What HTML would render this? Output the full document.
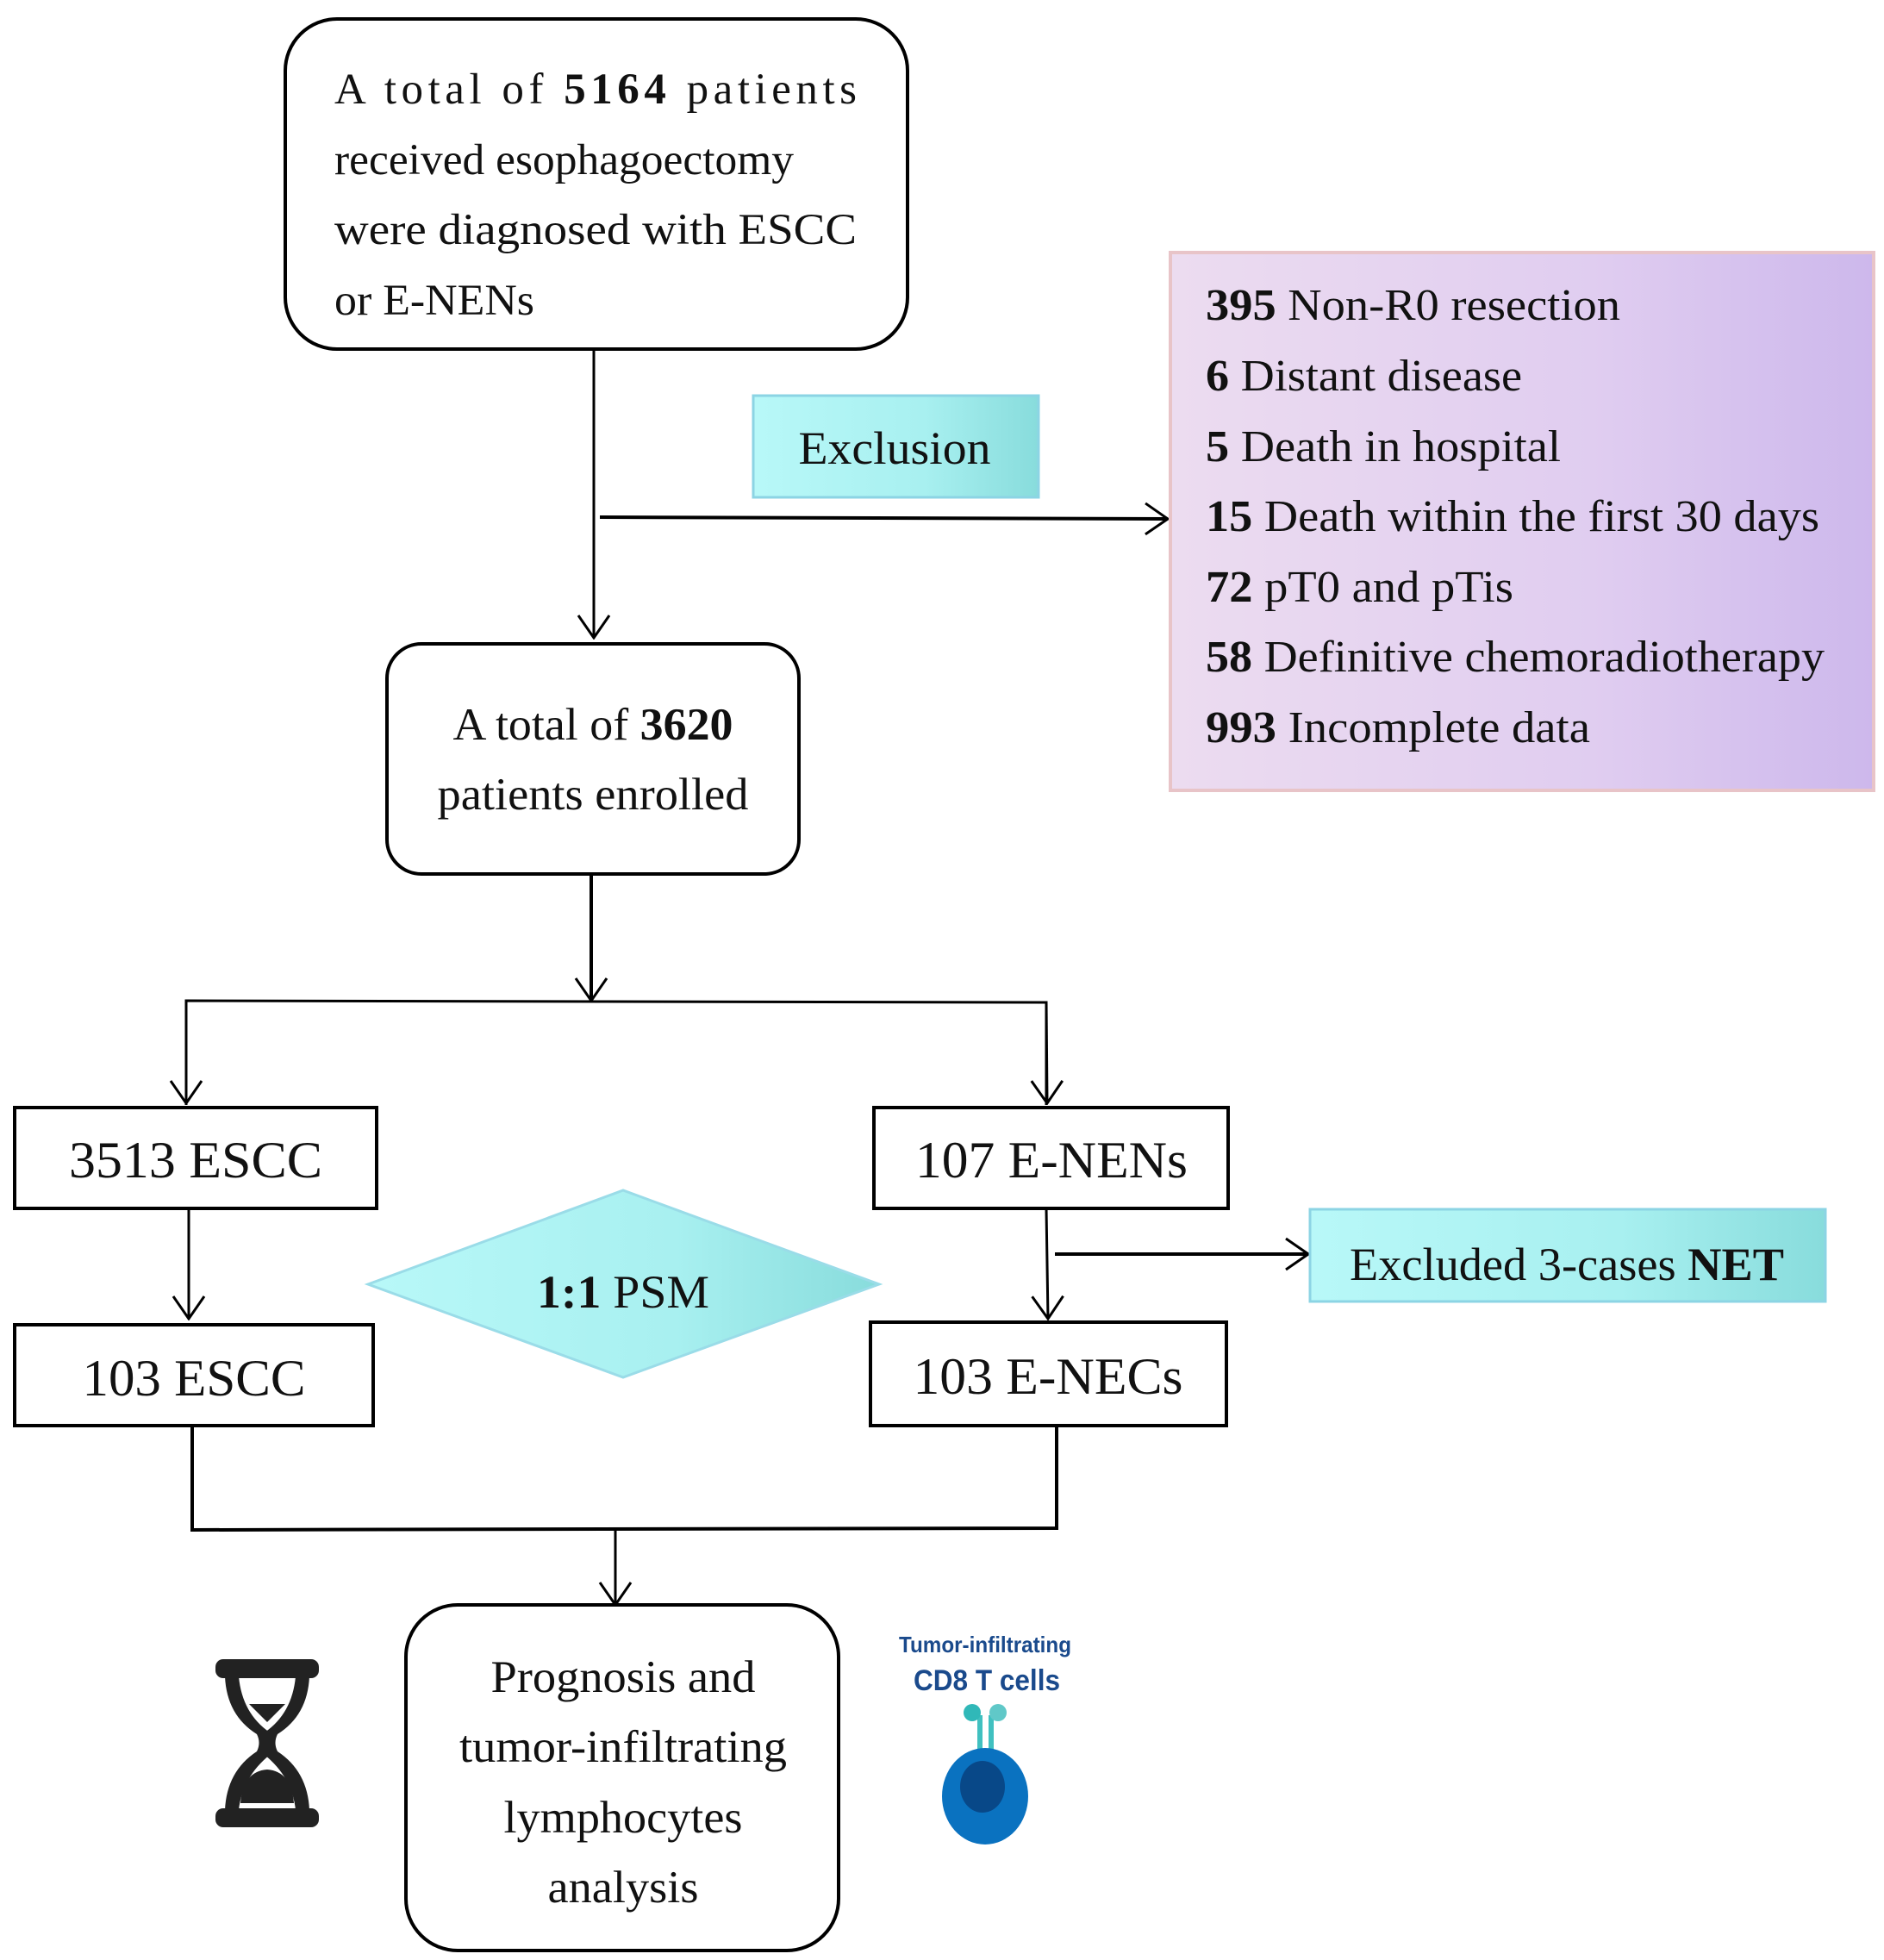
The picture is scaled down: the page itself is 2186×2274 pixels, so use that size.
<!DOCTYPE html>
<html><head><meta charset="utf-8"><style>html,body{margin:0;padding:0;background:#fff}svg{display:block}</style></head>
<body>
<svg width="2186" height="2274" viewBox="0 0 2186 2274" xmlns="http://www.w3.org/2000/svg" font-family="'Liberation Serif', serif">
<defs>
<linearGradient id="pg" x1="0" x2="1" y1="0" y2="0"><stop offset="0" stop-color="#ecdcf0"/><stop offset="0.6" stop-color="#e0cdf0"/><stop offset="1" stop-color="#cdb8ec"/></linearGradient>
<linearGradient id="cg" x1="0" x2="1" y1="0" y2="0"><stop offset="0" stop-color="#b8f8f8"/><stop offset="0.6" stop-color="#a8f0f0"/><stop offset="1" stop-color="#88dcdc"/></linearGradient>
<marker id="ar" viewBox="0 0 30 40" refX="28" refY="20" markerWidth="30" markerHeight="40" markerUnits="userSpaceOnUse" orient="auto"><path d="M2 2 L28 20 L2 38" fill="none" stroke="#000" stroke-width="3"/></marker>
</defs>
<g fill="none" stroke="#000" stroke-width="3">
<rect x="331" y="22" width="722" height="383" rx="60" stroke-width="4"/>
<line x1="689" y1="405" x2="689" y2="740" marker-end="url(#ar)"/>
<line x1="696" y1="600" x2="1355" y2="602" marker-end="url(#ar)" stroke-width="4"/>
<rect x="449" y="747" width="478" height="267" rx="40" stroke-width="4"/>
<line x1="686" y1="1014" x2="686" y2="1161" marker-end="url(#ar)" stroke-width="4"/>
<polyline points="216,1282 216,1161 1214,1163 1214,1282"/>
<line x1="216" y1="1163" x2="216" y2="1280" marker-end="url(#ar)"/>
<line x1="1214" y1="1163" x2="1215" y2="1280" marker-end="url(#ar)"/>
<rect x="17" y="1285" width="420" height="117" stroke-width="4"/>
<rect x="1014" y="1285" width="411" height="117" stroke-width="4"/>
<line x1="219" y1="1402" x2="219" y2="1530" marker-end="url(#ar)"/>
<line x1="1214" y1="1402" x2="1216" y2="1530" marker-end="url(#ar)"/>
<line x1="1224" y1="1455" x2="1518" y2="1455" marker-end="url(#ar)" stroke-width="4"/>
<rect x="17" y="1537" width="416" height="117" stroke-width="4"/>
<rect x="1010" y="1534" width="413" height="120" stroke-width="4"/>
<polyline points="223,1654 223,1775 1226,1773 1226,1654" stroke-width="4"/>
<line x1="714" y1="1773" x2="714" y2="1862" marker-end="url(#ar)"/>
<rect x="471" y="1862" width="502" height="401" rx="60" stroke-width="4"/>
</g>
<rect x="1358" y="293" width="816" height="624" fill="url(#pg)" stroke="#e8c4c8" stroke-width="4"/>
<rect x="874" y="459" width="331" height="118" fill="url(#cg)" stroke="#8cd4e4" stroke-width="3"/>
<rect x="1520" y="1403" width="598" height="107" fill="url(#cg)" stroke="#8cd4e4" stroke-width="3"/>
<polygon points="427,1490 723,1381 1020,1490 723,1598" fill="url(#cg)" stroke="#9adce8" stroke-width="3"/>
<g font-size="51" fill="#111" lengthAdjust="spacingAndGlyphs">
<text x="388" y="120" textLength="606" lengthAdjust="spacing">A total of <tspan font-weight="bold">5164</tspan> patients</text>
<text x="388" y="202" textLength="533" lengthAdjust="spacingAndGlyphs">received esophagoectomy</text>
<text x="388" y="283" textLength="606" lengthAdjust="spacingAndGlyphs">were diagnosed with ESCC</text>
<text x="388" y="365" textLength="232" lengthAdjust="spacingAndGlyphs">or E-NENs</text>
<text x="1038" y="538" text-anchor="middle" font-size="54" textLength="223" lengthAdjust="spacingAndGlyphs">Exclusion</text>
<text x="688" y="858" text-anchor="middle" font-size="53" textLength="325" lengthAdjust="spacingAndGlyphs">A total of <tspan font-weight="bold">3620</tspan></text>
<text x="688" y="939" text-anchor="middle" font-size="53" textLength="361" lengthAdjust="spacingAndGlyphs">patients enrolled</text>
<text x="227" y="1366" text-anchor="middle" font-size="60" textLength="294" lengthAdjust="spacingAndGlyphs">3513 ESCC</text>
<text x="1220" y="1366" text-anchor="middle" font-size="60" textLength="316" lengthAdjust="spacingAndGlyphs">107 E-NENs</text>
<text x="225" y="1619" text-anchor="middle" font-size="60" textLength="259" lengthAdjust="spacingAndGlyphs">103 ESCC</text>
<text x="1216" y="1617" text-anchor="middle" font-size="60" textLength="313" lengthAdjust="spacingAndGlyphs">103 E-NECs</text>
<text x="723" y="1517" text-anchor="middle" font-size="54" textLength="200" lengthAdjust="spacingAndGlyphs"><tspan font-weight="bold">1:1</tspan> PSM</text>
<text x="1818" y="1485" text-anchor="middle" font-size="54" textLength="504" lengthAdjust="spacingAndGlyphs">Excluded 3-cases <tspan font-weight="bold">NET</tspan></text>
<text x="723" y="1963" text-anchor="middle" font-size="53" textLength="307" lengthAdjust="spacingAndGlyphs">Prognosis and</text>
<text x="723" y="2044" text-anchor="middle" font-size="53" textLength="380" lengthAdjust="spacingAndGlyphs">tumor-infiltrating</text>
<text x="723" y="2126" text-anchor="middle" font-size="53" textLength="277" lengthAdjust="spacingAndGlyphs">lymphocytes</text>
<text x="723" y="2207" text-anchor="middle" font-size="53" textLength="175" lengthAdjust="spacingAndGlyphs">analysis</text>
<g font-size="52">
<text x="1399" y="371" textLength="481" lengthAdjust="spacingAndGlyphs"><tspan font-weight="bold">395</tspan> Non-R0 resection</text>
<text x="1399" y="453" textLength="367" lengthAdjust="spacingAndGlyphs"><tspan font-weight="bold">6</tspan> Distant disease</text>
<text x="1399" y="535" textLength="412" lengthAdjust="spacingAndGlyphs"><tspan font-weight="bold">5</tspan> Death in hospital</text>
<text x="1399" y="616" textLength="712" lengthAdjust="spacingAndGlyphs"><tspan font-weight="bold">15</tspan> Death within the first 30 days</text>
<text x="1399" y="698" textLength="357" lengthAdjust="spacingAndGlyphs"><tspan font-weight="bold">72</tspan> pT0 and pTis</text>
<text x="1399" y="779" textLength="718" lengthAdjust="spacingAndGlyphs"><tspan font-weight="bold">58</tspan> Definitive chemoradiotherapy</text>
<text x="1399" y="861" textLength="446" lengthAdjust="spacingAndGlyphs"><tspan font-weight="bold">993</tspan> Incomplete data</text>
</g>
</g>
<g fill="#222">
<rect x="250" y="1925" width="120" height="22" rx="9"/>
<rect x="250" y="2098" width="120" height="22" rx="9"/>
<path d="M261 1945 Q263 1990 298 2012 Q303 2022 298 2032 Q263 2055 261 2100 L277 2100 Q281 2062 313 2036 Q319 2022 313 2010 Q281 1988 277 1945 Z"/>
<path d="M359 1945 Q357 1990 322 2012 Q317 2022 322 2032 Q357 2055 359 2100 L343 2100 Q339 2062 307 2036 Q301 2022 307 2010 Q339 1988 343 1945 Z"/>
<polygon points="289,1977 331,1977 310,1998"/>
<path d="M279 2092 Q282 2055 310 2053 Q338 2055 341 2092 Z"/>
</g>
<g font-family="'Liberation Sans', sans-serif" font-weight="bold" fill="#1a4a8c" text-anchor="middle">
<text x="1143" y="1917" font-size="26" textLength="200" lengthAdjust="spacingAndGlyphs">Tumor-infiltrating</text>
<text x="1145" y="1961" font-size="34" textLength="170" lengthAdjust="spacingAndGlyphs">CD8 T cells</text>
</g>
<path d="M1137 2030 L1137 1990 M1150 2030 L1150 1990" stroke="#40c0c0" stroke-width="6" fill="none"/>
<circle cx="1128" cy="1987" r="10" fill="#30b8b8"/>
<circle cx="1158" cy="1987" r="10" fill="#60c8c8"/>
<ellipse cx="1143" cy="2084" rx="50" ry="56" fill="#0a72c0"/>
<ellipse cx="1140" cy="2073" rx="26" ry="30" fill="#084888"/>
</svg>
</body></html>
